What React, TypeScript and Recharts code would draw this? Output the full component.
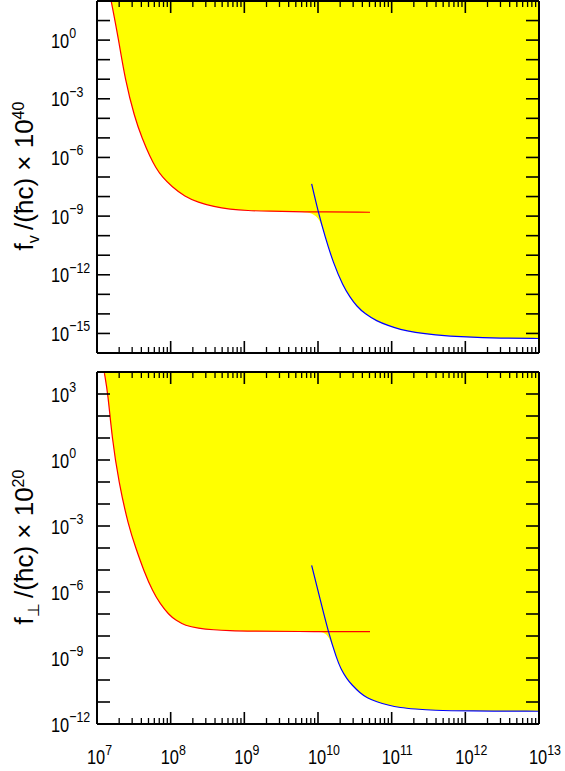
import React from 'react';
import { ComposedChart, Area, Line, XAxis, YAxis } from 'recharts';

// upper panel, f_v / (hbar c) x 10^40
const TOP_RED_X = [1.55e7, 1.97e7, 2.4e7, 3.25e7, 4.08e7, 5.24e7, 6.3e7, 7.62e7, 1.04e8, 1.56e8, 2.35e8, 3.87e8, 6.38e8, 1.09e9, 2.23e9, 5.19e9, 5.08e10];
const TOP_RED_Y = [110, 1.0, 1.02e-2, 1.05e-4, 1e-5, 1.07e-6, 2.95e-7, 1.02e-7, 3.16e-8, 9.8e-9, 5.1e-9, 3.0e-9, 2.24e-9, 1.9e-9, 1.78e-9, 1.66e-9, 1.58e-9];
const TOP_BLUE_X = [8.2e9, 1.01e10, 1.245e10, 1.61e10, 2.2e10, 2.72e10, 3.35e10, 4.35e10, 6.27e10, 8.9e10, 1.3e11, 2.07e11, 3.67e11, 1.04e12, 2.95e12, 1e13];
const TOP_BLUE_Y = [4.47e-8, 1.55e-9, 9.1e-11, 4.07e-12, 2.57e-13, 7.2e-14, 2.45e-14, 1.0e-14, 4.27e-15, 2.57e-15, 1.58e-15, 1.12e-15, 8.5e-16, 6.5e-16, 5.75e-16, 5.5e-16];

// lower panel, f_perp / (hbar c) x 10^20
const BOT_RED_X = [1.26e7, 1.41e7, 1.6e7, 1.97e7, 2.69e7, 3.38e7, 4.3e7, 5.75e7, 7.16e7, 9.4e7, 1.18e8, 1.58e8, 2.35e8, 3.84e8, 6.38e8, 1.09e9, 9.7e9, 5.08e10];
const BOT_RED_Y = [8.9e3, 1e3, 10, 0.1, 9.3e-4, 9.5e-5, 9.5e-6, 1e-6, 3.0e-7, 9.3e-8, 5.1e-8, 2.95e-8, 2.24e-8, 1.9e-8, 1.74e-8, 1.66e-8, 1.58e-8, 1.58e-8];
const BOT_BLUE_X = [8.2e9, 1.064e10, 1.38e10, 1.79e10, 2.05e10, 2.45e10, 2.89e10, 3.72e10, 4.62e10, 6.27e10, 8.9e10, 1.3e11, 2.07e11, 3.67e11, 1.04e12, 1e13];
const BOT_BLUE_Y = [1.62e-5, 5.0e-7, 1.51e-8, 9.5e-10, 3.1e-10, 1.17e-10, 5.9e-11, 2.57e-11, 1.55e-11, 1.02e-11, 7.2e-12, 5.5e-12, 4.8e-12, 4.17e-12, 3.9e-12, 3.8e-12];

const X_DECADES = [7, 8, 9, 10, 11, 12, 13];
const TOP_Y_DECADES = [-16, -15, -14, -13, -12, -11, -10, -9, -8, -7, -6, -5, -4, -3, -2, -1, 0, 1, 2];
const BOT_Y_DECADES = [-12, -11, -10, -9, -8, -7, -6, -5, -4, -3, -2, -1, 0, 1, 2, 3, 4];

const X_TICKS: number[] = [];
X_DECADES.forEach((d, i) => {
  const base = Math.pow(10, d);
  if (i === X_DECADES.length - 1) {
    X_TICKS.push(base);
    return;
  }
  for (let m = 1; m <= 9; m++) X_TICKS.push(m * base);
});

const FONT = "'Liberation Sans', Arial, sans-serif";

const zip = (xs: number[], ys: number[]) => xs.map((x, i) => ({ x, y: ys[i] }));

// lower envelope of the two curves: red until the blue one crosses it
const envelope = (red: { x: number; y: number }[], blue: { x: number; y: number }[], top: number) => {
  const plateau = red[red.length - 1].y;
  const cross = blue.findIndex((p) => p.y <= plateau);
  const pts = [...red.filter((p) => p.x < blue[cross].x), ...blue.slice(cross)];
  return pts.map((p) => ({ x: p.x, range: [p.y, top] }));
};

const expText = (e: number) => (e < 0 ? '\u2212' + Math.abs(e) : String(e));

const isDecade = (v: number) => Math.abs(Math.log10(v) - Math.round(Math.log10(v))) < 1e-6;

// "10^e" in a condensed face
const PowerLabel = ({ x, y, e }: { x: number; y: number; e: number }) => (
  <g transform={`translate(${x}, ${y}) scale(0.8, 1)`}>
    <text x={0} y={0} fontFamily={FONT} fontSize={20.5} fill="#000">
      10
      <tspan dy={-9.5} fontSize={15.5}>
        {expText(e)}
      </tspan>
    </text>
  </g>
);

const YTick = (props: any) => {
  const { x, y, payload, side } = props;
  const e = Math.round(Math.log10(payload.value));
  const dir = side === 'left' ? 1 : -1;
  return (
    <g>
      <line x1={x} x2={x + dir * 13} y1={y} y2={y} stroke="#000" strokeWidth={1.6} />
      {side === 'left' && e % 3 === 0 && <PowerLabel x={x - 46} y={y + 7.5} e={e} />}
    </g>
  );
};

const XTick = (props: any) => {
  const { x, y, payload, side, labels } = props;
  const v = payload.value;
  const major = isDecade(v);
  const len = major ? 12 : 6;
  const dir = side === 'bottom' ? -1 : 1;
  const e = Math.round(Math.log10(v));
  return (
    <g>
      <line x1={x} x2={x} y1={y} y2={y + dir * len} stroke="#000" strokeWidth={major ? 1.6 : 1.3} />
      {labels && major && <PowerLabel x={x - 10} y={y + 40} e={e} />}
    </g>
  );
};

const AxisTitle = (props: any) => {
  const { viewBox, sub, exp } = props;
  const cx = (viewBox?.x ?? 0) + 33;
  const cy = (viewBox?.y ?? 0) + (viewBox?.height ?? 0) / 2 - 1;
  return (
    <text
      transform={`translate(${cx}, ${cy}) rotate(-90)`}
      textAnchor="middle"
      fontFamily={FONT}
      fontSize={26}
      fill="#000"
    >
      f
      <tspan fontSize={16} dy={6}>
        {sub}
      </tspan>
      <tspan dy={-6}>{'\u2009/(\u0127c) \u00d7 10'}</tspan>
      <tspan fontSize={16} dy={-9}>
        {exp}
      </tspan>
    </text>
  );
};

interface PanelProps {
  red: { x: number; y: number }[];
  blue: { x: number; y: number }[];
  yDecades: number[];
  height: number;
  marginTop: number;
  bottomAxis: number;
  labels: boolean;
  sub: string;
  exp: string;
}

const Panel: React.FC<PanelProps> = ({ red, blue, yDecades, height, marginTop, bottomAxis, labels, sub, exp }) => {
  const yMin = Math.pow(10, yDecades[0]);
  const yMax = Math.pow(10, yDecades[yDecades.length - 1]);
  const yTicks = yDecades.map((d) => Math.pow(10, d));
  const fill = envelope(red, blue, yMax);
  const axisLine = { stroke: '#000', strokeWidth: 2 };
  return (
    <ComposedChart
      width={565}
      height={height}
      data={fill}
      margin={{ top: marginTop, right: 0, bottom: 0, left: 0 }}
    >
      <Area
        dataKey="range"
        type="basis"
        fill="#ffff00"
        fillOpacity={1}
        stroke="none"
        isAnimationActive={false}
      />
      <Line data={red} dataKey="y" type="basis" stroke="#ff0000" strokeWidth={1.2} dot={false} activeDot={false} isAnimationActive={false} />
      <Line data={blue} dataKey="y" type="basis" stroke="#0000ff" strokeWidth={1.2} dot={false} activeDot={false} isAnimationActive={false} />
      <XAxis
        dataKey="x"
        type="number"
        scale="log"
        domain={[1e7, 1e13]}
        allowDataOverflow
        ticks={X_TICKS}
        interval={0}
        height={bottomAxis}
        tickSize={0}
        tickMargin={0}
        tickLine={false}
        axisLine={axisLine}
        tick={<XTick side="bottom" labels={labels} />}
      />
      <XAxis
        xAxisId="top"
        orientation="top"
        dataKey="x"
        type="number"
        scale="log"
        domain={[1e7, 1e13]}
        allowDataOverflow
        ticks={X_TICKS}
        interval={0}
        height={1}
        tickSize={0}
        tickMargin={0}
        tickLine={false}
        axisLine={axisLine}
        tick={<XTick side="top" labels={false} />}
      />
      <YAxis
        type="number"
        scale="log"
        domain={[yMin, yMax]}
        allowDataOverflow
        ticks={yTicks}
        interval={0}
        width={97}
        tickSize={0}
        tickMargin={0}
        tickLine={false}
        axisLine={axisLine}
        tick={<YTick side="left" />}
        label={<AxisTitle sub={sub} exp={exp} />}
      />
      <YAxis
        yAxisId="right"
        orientation="right"
        type="number"
        scale="log"
        domain={[yMin, yMax]}
        allowDataOverflow
        ticks={yTicks}
        interval={0}
        width={26}
        tickSize={0}
        tickMargin={0}
        tickLine={false}
        axisLine={axisLine}
        tick={<YTick side="right" />}
      />
    </ComposedChart>
  );
};

export default function App() {
  const topRed = zip(TOP_RED_X, TOP_RED_Y);
  const topBlue = zip(TOP_BLUE_X, TOP_BLUE_Y);
  const botRed = zip(BOT_RED_X, BOT_RED_Y);
  const botBlue = zip(BOT_BLUE_X, BOT_BLUE_Y);
  return (
    <div style={{ position: 'absolute', left: 0, top: 0, width: 565, height: 771, background: '#fff' }}>
      <div style={{ position: 'absolute', left: 0, top: 0 }}>
        <Panel red={topRed} blue={topBlue} yDecades={TOP_Y_DECADES} height={362} marginTop={0} bottomAxis={9} labels={false} sub="v" exp="40" />
      </div>
      <div style={{ position: 'absolute', left: 0, top: 365 }}>
        <Panel red={botRed} blue={botBlue} yDecades={BOT_Y_DECADES} height={406} marginTop={6} bottomAxis={47} labels={true} sub={'\u22a5'} exp="20" />
      </div>
    </div>
  );
}
